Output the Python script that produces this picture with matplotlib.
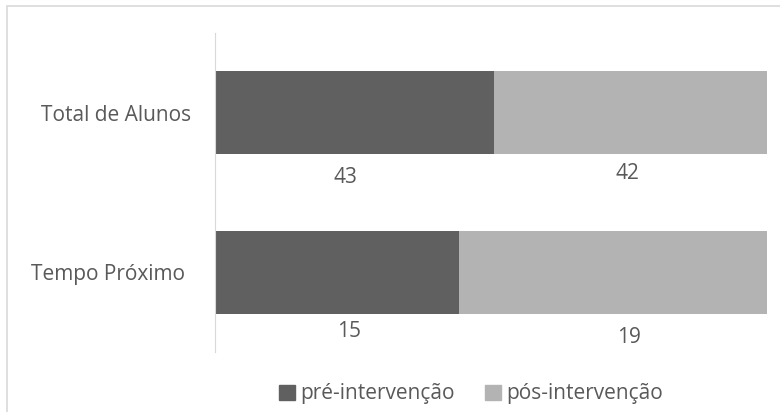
import matplotlib
matplotlib.use("Agg")
import matplotlib.pyplot as plt
import matplotlib.transforms as mtransforms
from matplotlib.patches import Rectangle, Patch

categories = ["Tempo Próximo", "Total de Alunos"]
pre = [15, 43]
pos = [19, 42]
series_names = ["pré-intervenção", "pós-intervenção"]

plt.rcParams['font.family'] = ['Open Sans', 'DejaVu Sans']
txt = '#595959'
c_pre = '#606060'
c_pos = '#b3b3b3'
fs = 15

# label placement tweaks (axes-data offsets), per category
pre_dx = [0.022, -0.016]
pre_dy = [0.373, 0.404]
pos_dx = [0.029, -0.005]
pos_dy = [0.41, 0.379]

fig = plt.figure(figsize=(7.8, 4.12), dpi=100)
# chart-area border: only top and left edges fall inside the image
fig.patches.append(Rectangle((7/780, -0.1), 1.2, 1.1 - 6/412, transform=fig.transFigure,
                             fill=False, edgecolor='#d9d9d9', linewidth=1.2))
ax = fig.add_axes([215/780, 1 - 352/412, (767-215)/780, (352-33)/412])

tot = [a + b for a, b in zip(pre, pos)]
fp = [a / t for a, t in zip(pre, tot)]
fq = [b / t for b, t in zip(pos, tot)]
y = list(range(len(categories)))
ax.barh(y, fp, height=0.52, color=c_pre)
ax.barh(y, fq, left=fp, height=0.52, color=c_pos)

for i in y:
    ax.text(fp[i] / 2 + pre_dx[i], i - pre_dy[i], str(pre[i]), ha='center', va='center',
            fontsize=fs, color=txt)
    ax.text(fp[i] + fq[i] / 2 + pos_dx[i], i - pos_dy[i], str(pos[i]), ha='center', va='center',
            fontsize=fs, color=txt)

ax.set_xlim(0, 1)
ax.set_ylim(-0.5, 1.5)
ax.set_yticks(y)
ax.set_yticklabels(categories, fontsize=fs, color=txt)
ax.tick_params(axis='y', length=0, pad=17)
ax.set_xticks([])
lbl = ax.get_yticklabels()[0]
lbl.set_transform(lbl.get_transform() + mtransforms.ScaledTranslation(-6/100, 0, fig.dpi_scale_trans))
for s in ['top', 'right', 'bottom']:
    ax.spines[s].set_visible(False)
ax.spines['left'].set_color('#d9d9d9')

handles = [Patch(color=c_pre), Patch(color=c_pos)]
fig.legend(handles, series_names, loc='center', bbox_to_anchor=(471/780, 1 - 394/412),
           ncol=2, frameon=False, fontsize=fs, labelcolor=txt,
           handlelength=0.75, handleheight=0.75, handletextpad=0.25, columnspacing=1.45)

fig.savefig('out.png', dpi=100)
